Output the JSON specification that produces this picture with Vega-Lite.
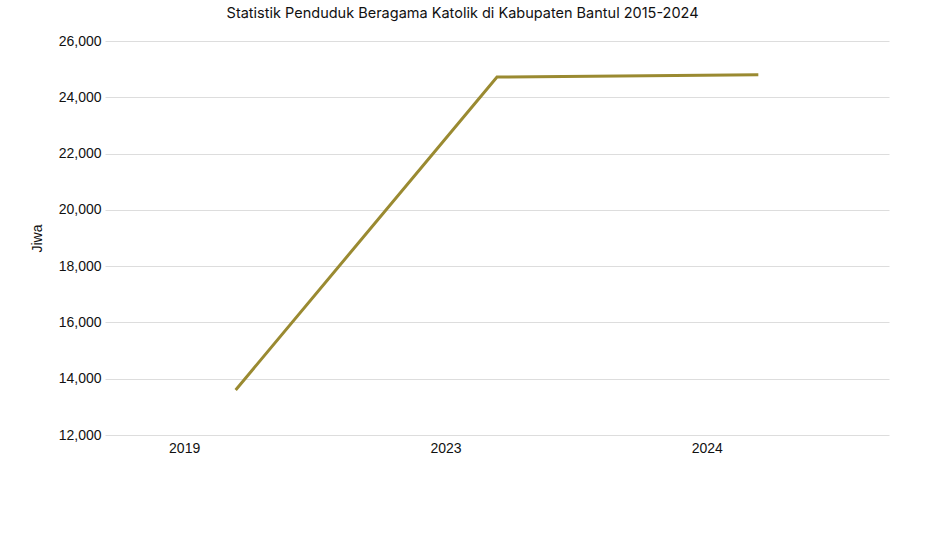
{
  "$schema": "https://vega.github.io/schema/vega-lite/v6.json",
  "autosize": "none",
  "width": 784,
  "height": 394,
  "padding": {"left": 105, "top": 41, "right": 36, "bottom": 112},
  "background": "white",
  "title": {
    "text": "Statistik Penduduk Beragama Katolik di Kabupaten Bantul 2015-2024",
    "font": "Inter",
    "fontSize": 14.5,
    "fontWeight": "normal",
    "color": "#111111",
    "anchor": "middle",
    "frame": "bounds",
    "offset": 13,
    "dx": 3
  },
  "config": {
    "view": {"stroke": null},
    "font": "Liberation Sans"
  },
  "data": {
    "values": [
      {"tahun": "2019", "jiwa": 13600},
      {"tahun": "2023", "jiwa": 24720},
      {"tahun": "2024", "jiwa": 24800}
    ]
  },
  "mark": {"type": "line", "color": "#9a8a31", "strokeWidth": 3},
  "encoding": {
    "x": {
      "field": "tahun",
      "type": "ordinal",
      "scale": {"type": "band", "paddingInner": 0, "paddingOuter": 0},
      "axis": {
        "title": null,
        "labelAngle": 0,
        "labelOffset": -51,
        "labelFont": "Liberation Sans",
        "labelFontSize": 14,
        "labelColor": "#111111",
        "labelPadding": 6,
        "domain": false,
        "ticks": false,
        "grid": false
      }
    },
    "y": {
      "field": "jiwa",
      "type": "quantitative",
      "scale": {"domain": [12000, 26000], "nice": false, "zero": false},
      "axis": {
        "title": "Jiwa",
        "titleFont": "Liberation Sans",
        "titleFontSize": 14,
        "titleFontWeight": "normal",
        "titleColor": "#111111",
        "titlePadding": 14,
        "values": [12000, 14000, 16000, 18000, 20000, 22000, 24000, 26000],
        "format": ",.0f",
        "labelFont": "Liberation Sans",
        "labelFontSize": 14,
        "labelColor": "#111111",
        "labelPadding": 4,
        "domain": false,
        "ticks": false,
        "gridColor": "#dddddd",
        "gridWidth": 1
      }
    }
  }
}
